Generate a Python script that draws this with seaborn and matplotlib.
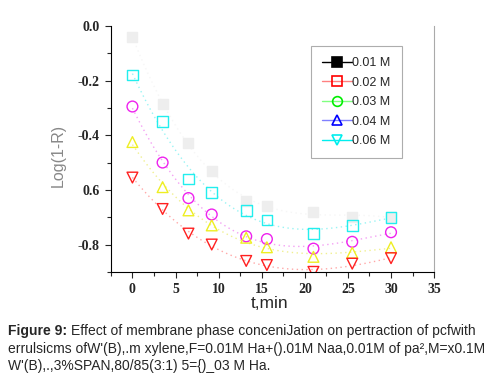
import pandas as pd
import matplotlib.pyplot as plt
import seaborn as sns
from matplotlib.lines import Line2D
from matplotlib.ticker import MultipleLocator

t_min = [0, 3.5, 6.5, 9.2, 13.2, 15.6, 21, 25.5, 30]

log_01 = [-0.04, -0.285, -0.43, -0.53, -0.64, -0.66, -0.68, -0.70, -0.70]
log_02 = [-0.18, -0.35, -0.56, -0.61, -0.675, -0.71, -0.76, -0.73, -0.70]
log_03 = [-0.295, -0.50, -0.63, -0.69, -0.77, -0.78, -0.815, -0.79, -0.755]
log_04 = [-0.425, -0.59, -0.675, -0.73, -0.775, -0.81, -0.845, -0.83, -0.81]
log_06 = [-0.555, -0.67, -0.76, -0.80, -0.86, -0.875, -0.90, -0.87, -0.85]

labels = ["0.01 M", "0.02 M", "0.03 M", "0.04 M", "0.06 M"]
series = [log_01, log_02, log_03, log_04, log_06]

# colours as they appear on the plot (differ from the legend in the source)
plot_colors = ["#eeeeee", "#22eeee", "#ee22ee", "#eeee22", "#ff2020"]
fit_colors = ["#f6f6f6", "#99f4f4", "#f4a0f4", "#f0f090", "#ffa8a8"]
markers = ["s", "s", "o", "^", "v"]
filled = [True, False, False, False, False]

legend_colors = ["black", "#ff0000", "#00ee00", "#0000ff", "#00eeee"]
legend_lines = ["black", "#ff8080", "#80ff80", "#8080ff", "#00eeee"]
legend_markers = ["s", "s", "o", "^", "v"]

sns.set_style("ticks")
plt.rcParams["font.family"] = ["Liberation Sans", "DejaVu Sans"]

fig = plt.figure(figsize=(4.95, 3.75), dpi=100)
ax = fig.add_axes([0.224, 0.275, 0.653, 0.656])

for vals, lab, pc, fc, m, f in zip(series, labels, plot_colors, fit_colors, markers, filled):
    df = pd.DataFrame({"t": t_min, "v": vals})
    sns.regplot(data=df, x="t", y="v", order=3, ci=None, scatter=False, ax=ax,
                line_kws=dict(color=fc, ls=(0, (1, 2.5)), lw=1.0), truncate=True)
    sns.scatterplot(data=df, x="t", y="v", ax=ax, marker=m, s=60,
                    facecolor=pc if f else "none", edgecolor=pc, linewidth=1.0, zorder=3)

ax.set_xlim(-2.5, 35)
ax.set_ylim(-0.9, 0.0)
ax.xaxis.set_major_locator(MultipleLocator(5))
ax.xaxis.set_minor_locator(MultipleLocator(2.5))
ax.set_yticks([0.0, -0.2, -0.4, -0.6, -0.8])
ax.set_yticklabels(["0.0", "-0.2", "-0.4", "0.6", "-0.8"])
ax.yaxis.set_minor_locator(MultipleLocator(0.1))
ax.tick_params(which="major", direction="out", length=4, width=0.8, right=False, top=False, pad=4)
ax.tick_params(which="minor", direction="out", length=3, width=0.8, right=False, top=False)
for lab in ax.get_xticklabels() + ax.get_yticklabels():
    lab.set_fontfamily("Liberation Serif")
    lab.set_fontweight("bold")
    lab.set_fontsize(10)

ax.spines["top"].set_visible(False)
ax.spines["right"].set_color("#aaaaaa")
ax.spines["left"].set_color("black")
ax.spines["bottom"].set_color("black")
ax.set_xlabel("")
ax.set_ylabel("")
fig.text(270 / 495, 1 - 303 / 375, "t,min", fontsize=12.5, ha="center", va="center")
fig.text(58 / 495, 1 - 155 / 375, "Log(1-R)", fontsize=11.5, color="#888888",
         rotation=90, ha="center", va="center")

handles = [Line2D([0], [0], color=lc, lw=1.0, marker=m, markersize=7,
                  markerfacecolor=c if i == 0 else "none", markeredgecolor=c, markeredgewidth=1.2)
           for i, (lc, c, m) in enumerate(zip(legend_lines, legend_colors, legend_markers))]
leg = ax.legend(handles, labels, loc="upper left", bbox_to_anchor=(0.619, 0.919),
                borderaxespad=0, frameon=True, fancybox=False, fontsize=9.0, handlelength=2.4,
                handletextpad=0.0, labelspacing=0.6, borderpad=0.9, numpoints=1)
leg.get_frame().set_edgecolor("#999999")
leg.get_frame().set_linewidth(0.8)

# caption below the chart
cap_size = 10.0
y1 = 1 - 331 / 375
step = 17.5 / 375
fig.canvas.draw()
r = fig.canvas.get_renderer()
fig_bold = fig.text(8 / 495, y1, "Figure 9:", fontsize=cap_size, fontweight="bold", va="center")
bb = fig_bold.get_window_extent(renderer=r)
fig.text(bb.x1 / fig.bbox.width + 4 / 495, y1,
         "Effect of membrane phase conceniJation on pertraction of pcfwith",
         fontsize=cap_size, va="center")
fig.text(8 / 495, y1 - step,
         "errulsicms ofW'(B),.m xylene,F=0.01M Ha+().01M Naa,0.01M of pa\u00b2,M=x0.1M",
         fontsize=cap_size, va="center")
fig.text(8 / 495, y1 - 2 * step, "W'(B),.,3%SPAN,80/85(3:1) 5={)_03 M Ha.",
         fontsize=cap_size, va="center")

fig.savefig("out.png", dpi=100)
